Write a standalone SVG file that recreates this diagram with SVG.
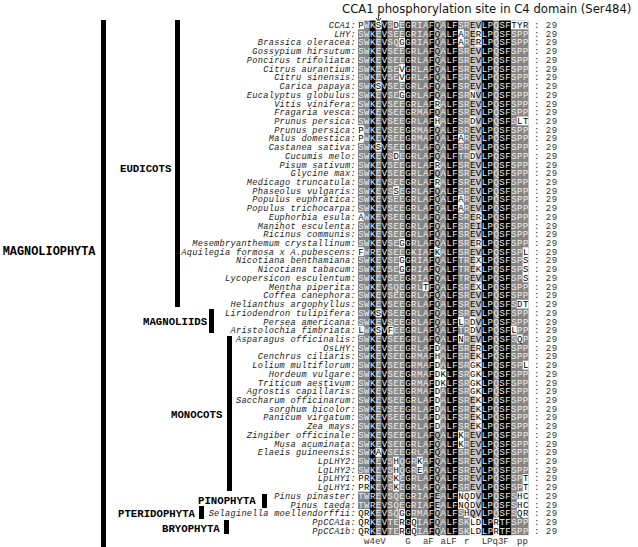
<svg xmlns="http://www.w3.org/2000/svg" width="638" height="547" viewBox="0 0 638 547">
<style>
.lb{font-family:"Liberation Mono",monospace;font-style:italic;font-size:8.6px;letter-spacing:0.3px;fill:#222;text-anchor:end}
.sq{font-family:"Liberation Mono",monospace;font-size:9px;letter-spacing:0.48px;fill:#eee}
.sq .k{fill:#000}
.ct{font-family:"Liberation Mono",monospace;font-size:9px;letter-spacing:0.48px;fill:#333}
.cs{font-family:"Liberation Mono",monospace;font-size:9px;fill:#333}
.cl{font-family:"Liberation Mono",monospace;font-weight:bold;font-size:10.7px;fill:#000}
.bar{fill:#000}
</style>
<rect width="638" height="547" fill="#fff"/>
<g id="title">
<text x="342" y="12.5" style="font-family:'DejaVu Sans',sans-serif;font-size:11.65px;fill:#111">CCA1 phosphorylation site in C4 domain (Ser484)</text>
<path d="M378.6 14.5V21.5M376 17.8L378.6 21.5L381.2 17.8" fill="none" stroke="#333" stroke-width="1"/>
</g>
<g id="tree">
<rect class="bar" x="101" y="20" width="5" height="527"/>
<text class="cl" x="2.7" y="255" style="font-size:11.9px">MAGNOLIOPHYTA</text>
<rect class="bar" x="175" y="20" width="5" height="287"/>
<text class="cl" x="120" y="172">EUDICOTS</text>
<rect class="bar" x="209" y="309" width="5" height="24"/>
<text class="cl" x="143" y="325">MAGNOLIIDS</text>
<rect class="bar" x="227" y="336" width="5" height="155"/>
<text class="cl" x="171" y="418">MONOCOTS</text>
<rect class="bar" x="262" y="494" width="5" height="14"/>
<text class="cl" x="198" y="504">PINOPHYTA</text>
<rect class="bar" x="199" y="506" width="5" height="13"/>
<text class="cl" x="118" y="517">PTERIDOPHYTA</text>
<rect class="bar" x="224" y="520" width="5" height="14"/>
<text class="cl" x="162" y="532">BRYOPHYTA</text>
</g>
<g id="shading">
<rect x="358" y="20.64" width="170.52" height="514.48" fill="#858585"/>
<g fill="#000">
<rect x="369.76" y="20.64" width="5.88" height="514.48"/>
<rect x="381.52" y="20.64" width="5.88" height="514.48"/>
<rect x="405.04" y="20.64" width="5.88" height="514.48"/>
<rect x="428.56" y="20.64" width="5.88" height="514.48"/>
<rect x="446.2" y="20.64" width="11.76" height="514.48"/>
<rect x="481.48" y="20.64" width="11.76" height="514.48"/>
<rect x="499.12" y="20.64" width="11.76" height="514.48"/>
</g>
<g fill="#c0c0c0">
<rect x="434.44" y="20.64" width="5.88" height="514.48"/>
<rect x="469.72" y="20.64" width="11.76" height="514.48"/>
</g>
<path fill="#fff" d="M358 20.64h5.88v8.72h-5.88zM375.64 20.64h5.88v8.72h-5.88zM393.28 20.64h5.88v8.72h-5.88zM510.88 20.64h17.64v8.72h-17.64z
M457.96 29.36h5.88v8.72h-5.88zM475.6 29.36h5.88v8.72h-5.88z
M399.16 38.08h5.88v8.72h-5.88zM457.96 38.08h5.88v8.72h-5.88zM475.6 38.08h5.88v8.72h-5.88z
M399.16 64.24h5.88v8.72h-5.88zM399.16 72.96h5.88v8.72h-5.88zM375.64 81.68h5.88v8.72h-5.88z
M399.16 90.4h5.88v8.72h-5.88zM469.72 90.4h5.88v8.72h-5.88z
M434.44 99.12h5.88v8.72h-5.88z
M434.44 116.56h5.88v8.72h-5.88zM469.72 116.56h5.88v8.72h-5.88zM516.76 116.56h11.76v8.72h-11.76z
M358 125.28h5.88v8.72h-5.88z
M358 134h5.88v8.72h-5.88zM457.96 134h5.88v8.72h-5.88z
M375.64 142.72h5.88v8.72h-5.88z
M393.28 151.44h5.88v8.72h-5.88zM469.72 151.44h5.88v8.72h-5.88z
M434.44 160.16h5.88v8.72h-5.88zM434.44 177.6h5.88v8.72h-5.88z
M393.28 186.32h5.88v8.72h-5.88zM457.96 195.04h5.88v8.72h-5.88zM457.96 203.76h5.88v8.72h-5.88z
M358 212.48h5.88v8.72h-5.88zM475.6 212.48h5.88v8.72h-5.88z
M399.16 238.64h5.88v8.72h-5.88zM475.6 238.64h5.88v8.72h-5.88z
M358 247.36h5.88v8.72h-5.88zM434.44 247.36h5.88v8.72h-5.88zM522.64 247.36h5.88v8.72h-5.88z
M399.16 256.08h5.88v8.72h-5.88zM475.6 256.08h5.88v8.72h-5.88zM522.64 256.08h5.88v8.72h-5.88z
M399.16 264.8h5.88v8.72h-5.88zM475.6 264.8h5.88v8.72h-5.88zM522.64 264.8h5.88v8.72h-5.88z
M522.64 273.52h5.88v8.72h-5.88z
M422.68 282.24h5.88v8.72h-5.88zM475.6 282.24h5.88v8.72h-5.88z
M516.76 299.68h11.76v8.72h-11.76z
M375.64 308.4h5.88v8.72h-5.88z
M457.96 317.12h5.88v8.72h-5.88zM469.72 317.12h5.88v8.72h-5.88z
M358 325.84h5.88v8.72h-5.88zM375.64 325.84h5.88v8.72h-5.88zM387.4 325.84h5.88v8.72h-5.88zM469.72 325.84h5.88v8.72h-5.88zM510.88 325.84h5.88v8.72h-5.88z
M457.96 334.56h5.88v8.72h-5.88zM516.76 334.56h5.88v8.72h-5.88z
M434.44 343.28h5.88v8.72h-5.88zM475.6 343.28h5.88v8.72h-5.88z
M434.44 352h5.88v8.72h-5.88zM475.6 352h5.88v8.72h-5.88z
M434.44 360.72h5.88v8.72h-5.88zM469.72 360.72h11.76v8.72h-11.76zM522.64 360.72h5.88v8.72h-5.88z
M434.44 369.44h11.76v8.72h-11.76zM469.72 369.44h11.76v8.72h-11.76z
M434.44 378.16h11.76v8.72h-11.76zM469.72 378.16h11.76v8.72h-11.76z
M434.44 386.88h5.88v8.72h-5.88zM469.72 386.88h11.76v8.72h-11.76z
M434.44 395.6h5.88v8.72h-5.88zM475.6 395.6h5.88v8.72h-5.88z
M434.44 404.32h5.88v8.72h-5.88zM475.6 404.32h5.88v8.72h-5.88z
M434.44 413.04h5.88v8.72h-5.88zM475.6 413.04h5.88v8.72h-5.88z
M434.44 421.76h5.88v8.72h-5.88zM475.6 421.76h5.88v8.72h-5.88z
M457.96 430.48h5.88v8.72h-5.88zM457.96 439.2h5.88v8.72h-5.88z
M375.64 447.92h5.88v8.72h-5.88z
M393.28 456.64h5.88v8.72h-5.88zM416.8 456.64h5.88v8.72h-5.88z
M393.28 465.36h5.88v8.72h-5.88zM416.8 465.36h5.88v8.72h-5.88z
M358 474.08h11.76v8.72h-11.76zM393.28 474.08h5.88v8.72h-5.88zM522.64 474.08h5.88v8.72h-5.88z
M358 482.8h11.76v8.72h-11.76zM393.28 482.8h5.88v8.72h-5.88zM522.64 482.8h5.88v8.72h-5.88z
M457.96 491.52h17.64v8.72h-17.64zM516.76 491.52h11.76v8.72h-11.76z
M457.96 500.24h17.64v8.72h-17.64zM516.76 500.24h11.76v8.72h-11.76z
M358 508.96h11.76v8.72h-11.76zM399.16 508.96h5.88v8.72h-5.88zM463.84 508.96h5.88v8.72h-5.88zM516.76 508.96h11.76v8.72h-11.76z
M358 517.68h11.76v8.72h-11.76zM399.16 517.68h5.88v8.72h-5.88zM410.92 517.68h5.88v8.72h-5.88zM469.72 517.68h11.76v8.72h-11.76zM493.24 517.68h5.88v8.72h-5.88z
M358 526.4h11.76v8.72h-11.76zM399.16 526.4h5.88v8.72h-5.88zM410.92 526.4h5.88v8.72h-5.88zM469.72 526.4h11.76v8.72h-11.76zM493.24 526.4h5.88v8.72h-5.88z"/>
</g>
<g id="rows">
<g id="r1"><text class="lb" x="356" y="28.04">CCA1:</text><text class="sq" x="358.2" y="28.04"><tspan class="k">P</tspan>WK<tspan class="k">S</tspan>VS<tspan class="k">D</tspan>EGRIAF<tspan class="k">Q</tspan>ALFSR<tspan class="k">EV</tspan>LPQSF<tspan class="k">TYR</tspan></text><text class="ct" x="534" y="28.04">: 29</text></g>
<g id="r2"><text class="lb" x="356" y="36.76">LHY:</text><text class="sq" x="358.2" y="36.76">SWKEVSEEGRIAF<tspan class="k">Q</tspan>ALF<tspan class="k">A</tspan>R<tspan class="k">ER</tspan>LPQSFSPP</text><text class="ct" x="534" y="36.76">: 29</text></g>
<g id="r3"><text class="lb" x="356" y="45.48">Brassica oleracea:</text><text class="sq" x="358.2" y="45.48">SWKEVSQ<tspan class="k">G</tspan>GRIAF<tspan class="k">Q</tspan>ALF<tspan class="k">A</tspan>R<tspan class="k">ER</tspan>LPQSFSPP</text><text class="ct" x="534" y="45.48">: 29</text></g>
<g id="r4"><text class="lb" x="356" y="54.2">Gossypium hirsutum:</text><text class="sq" x="358.2" y="54.2">SWKEVSEEGRLAF<tspan class="k">Q</tspan>ALFSR<tspan class="k">EV</tspan>LPQSFSPP</text><text class="ct" x="534" y="54.2">: 29</text></g>
<g id="r5"><text class="lb" x="356" y="62.92">Poncirus trifoliata:</text><text class="sq" x="358.2" y="62.92">SWKEVSEEGRLAF<tspan class="k">Q</tspan>ALFSR<tspan class="k">EV</tspan>LPQSFSPP</text><text class="ct" x="534" y="62.92">: 29</text></g>
<g id="r6"><text class="lb" x="356" y="71.64">Citrus aurantium:</text><text class="sq" x="358.2" y="71.64">SWKEVSE<tspan class="k">V</tspan>GRLAF<tspan class="k">Q</tspan>ALFSR<tspan class="k">EV</tspan>LPQSFSPP</text><text class="ct" x="534" y="71.64">: 29</text></g>
<g id="r7"><text class="lb" x="356" y="80.36">Citru sinensis:</text><text class="sq" x="358.2" y="80.36">SWKEVSE<tspan class="k">V</tspan>GRLAF<tspan class="k">Q</tspan>ALFSR<tspan class="k">EV</tspan>LPQSFSPP</text><text class="ct" x="534" y="80.36">: 29</text></g>
<g id="r8"><text class="lb" x="356" y="89.08">Carica papaya:</text><text class="sq" x="358.2" y="89.08">SWK<tspan class="k">S</tspan>VSEEGRLAF<tspan class="k">Q</tspan>ALFSR<tspan class="k">EV</tspan>LPQSFSPP</text><text class="ct" x="534" y="89.08">: 29</text></g>
<g id="r9"><text class="lb" x="356" y="97.8">Eucalyptus globulus:</text><text class="sq" x="358.2" y="97.8">SWKEVSE<tspan class="k">G</tspan>GRLAF<tspan class="k">Q</tspan>ALFSR<tspan class="k">NV</tspan>LPQSFSPP</text><text class="ct" x="534" y="97.8">: 29</text></g>
<g id="r10"><text class="lb" x="356" y="106.52">Vitis vinifera:</text><text class="sq" x="358.2" y="106.52">SWKEVSEEGRLAF<tspan class="k">R</tspan>ALFSR<tspan class="k">EV</tspan>LPQSFSPP</text><text class="ct" x="534" y="106.52">: 29</text></g>
<g id="r11"><text class="lb" x="356" y="115.24">Fragaria vesca:</text><text class="sq" x="358.2" y="115.24">SWKEVSEEGRMAF<tspan class="k">Q</tspan>ALFSR<tspan class="k">EV</tspan>LPQSFSPP</text><text class="ct" x="534" y="115.24">: 29</text></g>
<g id="r12"><text class="lb" x="356" y="123.96">Prunus persica:</text><text class="sq" x="358.2" y="123.96">SWKEVSEEGRLAF<tspan class="k">H</tspan>ALFSR<tspan class="k">DV</tspan>LPQSFS<tspan class="k">LT</tspan></text><text class="ct" x="534" y="123.96">: 29</text></g>
<g id="r13"><text class="lb" x="356" y="132.68">Prunus persica:</text><text class="sq" x="358.2" y="132.68"><tspan class="k">P</tspan>WKEVSEEGRMAF<tspan class="k">Q</tspan>ALFSR<tspan class="k">EV</tspan>LPQSFSPP</text><text class="ct" x="534" y="132.68">: 29</text></g>
<g id="r14"><text class="lb" x="356" y="141.4">Malus domestica:</text><text class="sq" x="358.2" y="141.4"><tspan class="k">P</tspan>WKEVSEEGRMAF<tspan class="k">Q</tspan>ALF<tspan class="k">A</tspan>R<tspan class="k">EV</tspan>LPQSFSPP</text><text class="ct" x="534" y="141.4">: 29</text></g>
<g id="r15"><text class="lb" x="356" y="150.12">Castanea sativa:</text><text class="sq" x="358.2" y="150.12">SWK<tspan class="k">S</tspan>VSEEGRLAF<tspan class="k">Q</tspan>ALFSR<tspan class="k">EV</tspan>LPQSFSPP</text><text class="ct" x="534" y="150.12">: 29</text></g>
<g id="r16"><text class="lb" x="356" y="158.84">Cucumis melo:</text><text class="sq" x="358.2" y="158.84">SWKEVS<tspan class="k">D</tspan>EGRLAF<tspan class="k">Q</tspan>ALFTR<tspan class="k">DV</tspan>LPQSFSPP</text><text class="ct" x="534" y="158.84">: 29</text></g>
<g id="r17"><text class="lb" x="356" y="167.56">Pisum sativum:</text><text class="sq" x="358.2" y="167.56">SWKEVSEEGRLAF<tspan class="k">R</tspan>ALFSR<tspan class="k">EV</tspan>LPQSFSPP</text><text class="ct" x="534" y="167.56">: 29</text></g>
<g id="r18"><text class="lb" x="356" y="176.28">Glycine max:</text><text class="sq" x="358.2" y="176.28">SWKEVSEEGRLAF<tspan class="k">Q</tspan>ALFSR<tspan class="k">EV</tspan>LPQSFSPP</text><text class="ct" x="534" y="176.28">: 29</text></g>
<g id="r19"><text class="lb" x="356" y="185">Medicago truncatula:</text><text class="sq" x="358.2" y="185">SWKEVSEEGRLAF<tspan class="k">R</tspan>ALFSR<tspan class="k">EV</tspan>LPQSFSPP</text><text class="ct" x="534" y="185">: 29</text></g>
<g id="r20"><text class="lb" x="356" y="193.72">Phaseolus vulgaris:</text><text class="sq" x="358.2" y="193.72">SWKEVS<tspan class="k">S</tspan>EGRLAF<tspan class="k">Q</tspan>ALFSR<tspan class="k">EV</tspan>LPQSFSPP</text><text class="ct" x="534" y="193.72">: 29</text></g>
<g id="r21"><text class="lb" x="356" y="202.44">Populus euphratica:</text><text class="sq" x="358.2" y="202.44">SWKEVSEEGRLAF<tspan class="k">Q</tspan>ALF<tspan class="k">A</tspan>R<tspan class="k">EV</tspan>LPQSFSPP</text><text class="ct" x="534" y="202.44">: 29</text></g>
<g id="r22"><text class="lb" x="356" y="211.16">Populus trichocarpa:</text><text class="sq" x="358.2" y="211.16">SWKEVSEEGRLAF<tspan class="k">Q</tspan>ALF<tspan class="k">A</tspan>R<tspan class="k">EV</tspan>LPQSFSPP</text><text class="ct" x="534" y="211.16">: 29</text></g>
<g id="r23"><text class="lb" x="356" y="219.88">Euphorbia esula:</text><text class="sq" x="358.2" y="219.88"><tspan class="k">A</tspan>WKEVSEEGRLAF<tspan class="k">Q</tspan>ALFSR<tspan class="k">ER</tspan>LPQSFSPP</text><text class="ct" x="534" y="219.88">: 29</text></g>
<g id="r24"><text class="lb" x="356" y="228.6">Manihot esculenta:</text><text class="sq" x="358.2" y="228.6">SWKEVSEEGRLAF<tspan class="k">Q</tspan>ALFSR<tspan class="k">EI</tspan>LPQSFSPP</text><text class="ct" x="534" y="228.6">: 29</text></g>
<g id="r25"><text class="lb" x="356" y="237.32">Ricinus communis:</text><text class="sq" x="358.2" y="237.32">SWKEVSEEGRLAF<tspan class="k">Q</tspan>ALFSR<tspan class="k">EV</tspan>LPQSFSPP</text><text class="ct" x="534" y="237.32">: 29</text></g>
<g id="r26"><text class="lb" x="356" y="246.04">Mesembryanthemum crystallinum:</text><text class="sq" x="358.2" y="246.04">SWKEVSE<tspan class="k">G</tspan>GRLAF<tspan class="k">Q</tspan>ALFSR<tspan class="k">ER</tspan>LPQSFSPP</text><text class="ct" x="534" y="246.04">: 29</text></g>
<g id="r27"><text class="lb" x="356" y="254.76">Aquilegia formosa x A.pubescens:</text><text class="sq" x="358.2" y="254.76"><tspan class="k">F</tspan>WREVSEEGKIAF<tspan class="k">K</tspan>ALFSR<tspan class="k">EV</tspan>LPQSFSP<tspan class="k">L</tspan></text><text class="ct" x="534" y="254.76">: 29</text></g>
<g id="r28"><text class="lb" x="356" y="263.48">Nicotiana benthamiana:</text><text class="sq" x="358.2" y="263.48">SWKEVSE<tspan class="k">G</tspan>GRIAF<tspan class="k">Q</tspan>ALFTR<tspan class="k">EX</tspan>LPQSFSP<tspan class="k">S</tspan></text><text class="ct" x="534" y="263.48">: 29</text></g>
<g id="r29"><text class="lb" x="356" y="272.2">Nicotiana tabacum:</text><text class="sq" x="358.2" y="272.2">SWKEVSE<tspan class="k">G</tspan>GRIAF<tspan class="k">Q</tspan>ALFTR<tspan class="k">EK</tspan>LPQSFSP<tspan class="k">S</tspan></text><text class="ct" x="534" y="272.2">: 29</text></g>
<g id="r30"><text class="lb" x="356" y="280.92">Lycopersicon esculentum:</text><text class="sq" x="358.2" y="280.92">SWKEVSEEGRIAF<tspan class="k">Q</tspan>ALFTR<tspan class="k">EV</tspan>LPQSFSP<tspan class="k">S</tspan></text><text class="ct" x="534" y="280.92">: 29</text></g>
<g id="r31"><text class="lb" x="356" y="289.64">Mentha piperita:</text><text class="sq" x="358.2" y="289.64">SWKEVSQEGRL<tspan class="k">T</tspan>F<tspan class="k">Q</tspan>ALFSR<tspan class="k">EX</tspan>LPQSFSPP</text><text class="ct" x="534" y="289.64">: 29</text></g>
<g id="r32"><text class="lb" x="356" y="298.36">Coffea canephora:</text><text class="sq" x="358.2" y="298.36">SWKEVSEEGRLAF<tspan class="k">Q</tspan>ALFSR<tspan class="k">EV</tspan>LPQSFSPP</text><text class="ct" x="534" y="298.36">: 29</text></g>
<g id="r33"><text class="lb" x="356" y="307.08">Helianthus argophyllus:</text><text class="sq" x="358.2" y="307.08">SWKEVSEEGRLAF<tspan class="k">Q</tspan>ALFSR<tspan class="k">EV</tspan>LPQSFS<tspan class="k">DT</tspan></text><text class="ct" x="534" y="307.08">: 29</text></g>
<g id="r34"><text class="lb" x="356" y="315.8">Liriodendron tulipifera:</text><text class="sq" x="358.2" y="315.8">SWK<tspan class="k">S</tspan>VSEEGRLAF<tspan class="k">Q</tspan>ALFSR<tspan class="k">EV</tspan>LPQSFSPP</text><text class="ct" x="534" y="315.8">: 29</text></g>
<g id="r35"><text class="lb" x="356" y="324.52">Persea americana:</text><text class="sq" x="358.2" y="324.52">SWKEVSEEGRLAF<tspan class="k">Q</tspan>ALF<tspan class="k">L</tspan>R<tspan class="k">DV</tspan>LPQSFSPP</text><text class="ct" x="534" y="324.52">: 29</text></g>
<g id="r36"><text class="lb" x="356" y="333.24">Aristolochia fimbriata:</text><text class="sq" x="358.2" y="333.24"><tspan class="k">L</tspan>WK<tspan class="k">S</tspan>V<tspan class="k">F</tspan>EEGRLAF<tspan class="k">Q</tspan>ALFTR<tspan class="k">DV</tspan>LPQSF<tspan class="k">L</tspan>PP</text><text class="ct" x="534" y="333.24">: 29</text></g>
<g id="r37"><text class="lb" x="356" y="341.96">Asparagus officinalis:</text><text class="sq" x="358.2" y="341.96">SWKEVSEEGRLAF<tspan class="k">Q</tspan>ALF<tspan class="k">N</tspan>R<tspan class="k">EV</tspan>LPQSFS<tspan class="k">Q</tspan>P</text><text class="ct" x="534" y="341.96">: 29</text></g>
<g id="r38"><text class="lb" x="356" y="350.68">OsLHY:</text><text class="sq" x="358.2" y="350.68">SWKEVSEEGRLAF<tspan class="k">D</tspan>ALFSR<tspan class="k">ER</tspan>LPQSFSPP</text><text class="ct" x="534" y="350.68">: 29</text></g>
<g id="r39"><text class="lb" x="356" y="359.4">Cenchrus ciliaris:</text><text class="sq" x="358.2" y="359.4">SWKEVSEEGRMAF<tspan class="k">H</tspan>ALFSR<tspan class="k">EK</tspan>LPQSFSPP</text><text class="ct" x="534" y="359.4">: 29</text></g>
<g id="r40"><text class="lb" x="356" y="368.12">Lolium multiflorum:</text><text class="sq" x="358.2" y="368.12">SWKEVSEEGRMAF<tspan class="k">D</tspan>ALFSR<tspan class="k">GK</tspan>LPQSFSP<tspan class="k">L</tspan></text><text class="ct" x="534" y="368.12">: 29</text></g>
<g id="r41"><text class="lb" x="356" y="376.84">Hordeum vulgare:</text><text class="sq" x="358.2" y="376.84">SWKEVSEEGRMAF<tspan class="k">DK</tspan>LFSR<tspan class="k">GK</tspan>LPQSFSPP</text><text class="ct" x="534" y="376.84">: 29</text></g>
<g id="r42"><text class="lb" x="356" y="385.56">Triticum aestivum:</text><text class="sq" x="358.2" y="385.56">SWKEVSEEGRMAF<tspan class="k">DK</tspan>LFSR<tspan class="k">GK</tspan>LPQSFSPP</text><text class="ct" x="534" y="385.56">: 29</text></g>
<g id="r43"><text class="lb" x="356" y="394.28">Agrostis capillaris:</text><text class="sq" x="358.2" y="394.28">SWKEVSEEGRMAF<tspan class="k">D</tspan>ALFSR<tspan class="k">GK</tspan>LPQSFSPP</text><text class="ct" x="534" y="394.28">: 29</text></g>
<g id="r44"><text class="lb" x="356" y="403">Saccharum officinarum:</text><text class="sq" x="358.2" y="403">SWKEVSEEGRLAF<tspan class="k">D</tspan>ALFSR<tspan class="k">EK</tspan>LPQSFSPP</text><text class="ct" x="534" y="403">: 29</text></g>
<g id="r45"><text class="lb" x="356" y="411.72">sorghum bicolor:</text><text class="sq" x="358.2" y="411.72">SWKEVSEEGRLAF<tspan class="k">D</tspan>ALFSR<tspan class="k">EK</tspan>LPQSFSPP</text><text class="ct" x="534" y="411.72">: 29</text></g>
<g id="r46"><text class="lb" x="356" y="420.44">Panicum virgatum:</text><text class="sq" x="358.2" y="420.44">SWKEVSEEGRLAF<tspan class="k">D</tspan>ALFSR<tspan class="k">EK</tspan>LPQSFSPP</text><text class="ct" x="534" y="420.44">: 29</text></g>
<g id="r47"><text class="lb" x="356" y="429.16">Zea mays:</text><text class="sq" x="358.2" y="429.16">SWKEVSEEGRLAF<tspan class="k">D</tspan>ALFSR<tspan class="k">EK</tspan>LPQSFSPP</text><text class="ct" x="534" y="429.16">: 29</text></g>
<g id="r48"><text class="lb" x="356" y="437.88">Zingiber officinale:</text><text class="sq" x="358.2" y="437.88">SWKEVSEEGRLAF<tspan class="k">Q</tspan>ALF<tspan class="k">K</tspan>R<tspan class="k">EV</tspan>LPQSFSPP</text><text class="ct" x="534" y="437.88">: 29</text></g>
<g id="r49"><text class="lb" x="356" y="446.6">Musa acuminata:</text><text class="sq" x="358.2" y="446.6">SWKEVSEEGRLAF<tspan class="k">Q</tspan>ALF<tspan class="k">K</tspan>R<tspan class="k">EV</tspan>LPQSFSPP</text><text class="ct" x="534" y="446.6">: 29</text></g>
<g id="r50"><text class="lb" x="356" y="455.32">Elaeis guineensis:</text><text class="sq" x="358.2" y="455.32">SWK<tspan class="k">A</tspan>VSEEGRLAF<tspan class="k">Q</tspan>ALFSR<tspan class="k">EV</tspan>LPQSFSPP</text><text class="ct" x="534" y="455.32">: 29</text></g>
<g id="r51"><text class="lb" x="356" y="464.04">LpLHY2:</text><text class="sq" x="358.2" y="464.04">SWKEVS<tspan class="k">H</tspan>QGR<tspan class="k">K</tspan>AF<tspan class="k">Q</tspan>ALFSR<tspan class="k">EV</tspan>LPQSFSPP</text><text class="ct" x="534" y="464.04">: 29</text></g>
<g id="r52"><text class="lb" x="356" y="472.76">LgLHY2:</text><text class="sq" x="358.2" y="472.76">SWKEVS<tspan class="k">H</tspan>QGR<tspan class="k">E</tspan>AF<tspan class="k">Q</tspan>ALFSR<tspan class="k">EV</tspan>LPQSFSPP</text><text class="ct" x="534" y="472.76">: 29</text></g>
<g id="r53"><text class="lb" x="356" y="481.48">LpLHY1:</text><text class="sq" x="358.2" y="481.48"><tspan class="k">PR</tspan>KEVS<tspan class="k">K</tspan>EGRLAF<tspan class="k">Q</tspan>ALFSR<tspan class="k">EV</tspan>LPQSFSP<tspan class="k">T</tspan></text><text class="ct" x="534" y="481.48">: 29</text></g>
<g id="r54"><text class="lb" x="356" y="490.2">LgLHY1:</text><text class="sq" x="358.2" y="490.2"><tspan class="k">PR</tspan>KEVS<tspan class="k">K</tspan>EGRLAF<tspan class="k">Q</tspan>ALFSR<tspan class="k">EV</tspan>LPQSFSP<tspan class="k">T</tspan></text><text class="ct" x="534" y="490.2">: 29</text></g>
<g id="r55"><text class="lb" x="356" y="498.92">Pinus pinaster:</text><text class="sq" x="358.2" y="498.92">TWREVSQEGRIAF<tspan class="k">E</tspan>ALF<tspan class="k">NQDV</tspan>LPQSFS<tspan class="k">HC</tspan></text><text class="ct" x="534" y="498.92">: 29</text></g>
<g id="r56"><text class="lb" x="356" y="507.64">Pinus taeda:</text><text class="sq" x="358.2" y="507.64">TWREVSQEGRIAF<tspan class="k">E</tspan>ALF<tspan class="k">NQDV</tspan>LPQSFS<tspan class="k">HC</tspan></text><text class="ct" x="534" y="507.64">: 29</text></g>
<g id="r57"><text class="lb" x="356" y="516.36">Selaginella moellendorffii:</text><text class="sq" x="358.2" y="516.36"><tspan class="k">QR</tspan>KEVSQ<tspan class="k">G</tspan>GRMAF<tspan class="k">Q</tspan>ALFS<tspan class="k">HQV</tspan>LPQSFS<tspan class="k">QR</tspan></text><text class="ct" x="534" y="516.36">: 29</text></g>
<g id="r58"><text class="lb" x="356" y="525.08">PpCCA1a:</text><text class="sq" x="358.2" y="525.08"><tspan class="k">QR</tspan>KEVTE<tspan class="k">R</tspan>G<tspan class="k">Q</tspan>IAF<tspan class="k">Q</tspan>ALFSK<tspan class="k">LD</tspan>LP<tspan class="k">R</tspan>TFSPP</text><text class="ct" x="534" y="525.08">: 29</text></g>
<g id="r59"><text class="lb" x="356" y="533.8">PpCCA1b:</text><text class="sq" x="358.2" y="533.8"><tspan class="k">QR</tspan>KEVTE<tspan class="k">R</tspan>G<tspan class="k">Q</tspan>IAF<tspan class="k">Q</tspan>ALFSK<tspan class="k">LD</tspan>LP<tspan class="k">R</tspan>TFSPP</text><text class="ct" x="534" y="533.8">: 29</text></g>
</g>
<g id="consensus">
<text class="cs" y="543.5"><tspan x="364.1">w4eV</tspan><tspan x="405.3">G</tspan><tspan x="422.9">aF</tspan><tspan x="440.5">aLF</tspan><tspan x="464.1">r</tspan><tspan x="481.7">LPq3F</tspan><tspan x="517">pp</tspan></text>
</g>
</svg>
